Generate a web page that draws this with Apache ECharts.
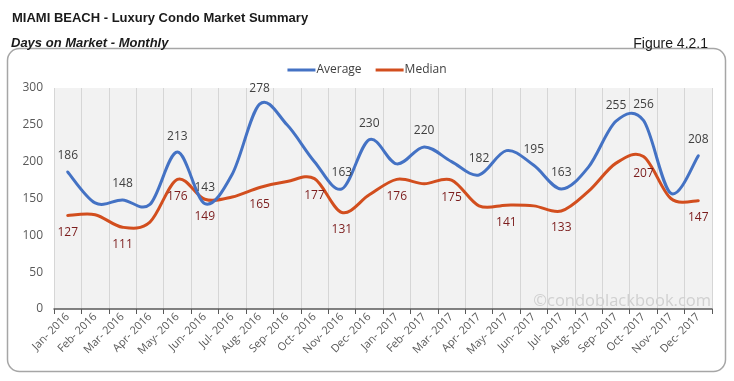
<!DOCTYPE html>
<html><head><meta charset="utf-8">
<script src="https://cdn.jsdelivr.net/npm/echarts@6/dist/echarts.min.js"></script>
<style>html,body{margin:0;padding:0;background:#fff}#c{width:734px;height:381px}</style>
</head><body><div id="c"></div>
<script>
const categories = ['Jan- 2016','Feb- 2016','Mar- 2016','Apr- 2016','May- 2016','Jun- 2016','Jul- 2016','Aug- 2016','Sep- 2016','Oct- 2016','Nov- 2016','Dec- 2016',
  'Jan- 2017','Feb- 2017','Mar- 2017','Apr- 2017','May- 2017','Jun- 2017','Jul- 2017','Aug- 2017','Sep- 2017','Oct- 2017','Nov- 2017','Dec- 2017'];
const averageValues = [186,144,148,142,213,143,183,278,250,200,163,230,197,220,200,182,215,195,163,193,255,256,157,208];
const medianValues  = [127,128,111,118,176,149,152,165,173,177,131,155,176,170,175,140,141,140,133,160,198,207,150,147];
const averageLabeled = [1,0,1,0,1,1,0,1,0,0,1,1,0,1,0,1,0,1,1,0,1,1,0,1];
const medianLabeled  = [1,0,1,0,1,1,0,1,0,1,1,0,1,0,1,0,1,0,1,0,0,1,0,1];
const yTicks = [0,50,100,150,200,250,300];

const chart = echarts.init(document.getElementById('c'), null, {renderer:'canvas'});
const avgData = averageValues.map((v,i)=>({value:v, label:{show:!!averageLabeled[i]}}));
const medData = medianValues.map((v,i)=>({value:v, label:{show:!!medianLabeled[i]}}));
const F = '"Open Sans", sans-serif';
const BLUE = '#4472C4', ORANGE = '#D24E1E';

// Smoothed curve (Catmull-Rom style, like a spreadsheet "smoothed line") built from axis coordinates
function smoothRender(values, color) {
  return function (params, api) {
    if (params.dataIndex !== 0) return null;
    const pts = values.map((v, i) => api.coord([i, v]));
    const n = pts.length;
    let d = 'M' + pts[0][0] + ' ' + pts[0][1];
    for (let i = 0; i < n - 1; i++) {
      const p0 = pts[Math.max(i - 1, 0)], p1 = pts[i], p2 = pts[i + 1], p3 = pts[Math.min(i + 2, n - 1)];
      const c1 = [p1[0] + (p2[0] - p0[0]) / 6, p1[1] + (p2[1] - p0[1]) / 6];
      const c2 = [p2[0] - (p3[0] - p1[0]) / 6, p2[1] - (p3[1] - p1[1]) / 6];
      d += ' C' + c1[0] + ' ' + c1[1] + ' ' + c2[0] + ' ' + c2[1] + ' ' + p2[0] + ' ' + p2[1];
    }
    return {type:'path', shape:{pathData:d}, style:{stroke:color, lineWidth:3, fill:null, lineCap:'round', lineJoin:'round'}};
  };
}

chart.setOption({
  animation:false,
  backgroundColor:'#fff',
  title:[
    {text:'MIAMI BEACH - Luxury Condo Market Summary', left:7, top:7,
      textStyle:{fontFamily:'"Liberation Sans", Arial, sans-serif', fontSize:13, fontWeight:'bold', color:'#1a1a1a'}},
    {text:'Days on Market - Monthly', left:6, top:32,
      textStyle:{fontFamily:'"Liberation Sans", Arial, sans-serif', fontSize:13, fontWeight:'bold', fontStyle:'italic', color:'#1a1a1a'}},
    {text:'Figure 4.2.1', right:21, top:32,
      textStyle:{fontFamily:'"Liberation Sans", Arial, sans-serif', fontSize:14, fontWeight:'normal', color:'#1a1a1a'}}
  ],
  graphic:[
    {type:'rect', z:-10, shape:{x:7.5,y:48.5,width:718,height:323,r:12}, style:{fill:'none', stroke:'#a6a6a6', lineWidth:1.5}},
    {type:'text', right:23, top:293, z:1, style:{text:'\u00a9condoblackbook.com', fill:'#d0d0d0', font:'16.5px "Open Sans", sans-serif'}}
  ],
  legend:{
    top:59, left:'center', icon:'rect', itemWidth:28, itemHeight:3, itemGap:14,
    textStyle:{fontFamily:F, fontSize:12, color:'#404040', padding:[0,0,0,-4]},
    data:['Average','Median']
  },
  grid:{left:54, right:22, top:88, bottom:72, show:true, backgroundColor:'#f2f2f2', borderWidth:0},
  xAxis:{
    type:'category', data:categories, boundaryGap:true,
    axisLine:{lineStyle:{color:'#595959', width:1.5}},
    axisTick:{show:true, length:5, lineStyle:{color:'#595959'}},
    splitLine:{show:true, lineStyle:{color:'#d6d6d6', width:1}},
    axisLabel:{rotate:45, fontFamily:F, fontSize:11, color:'#595959', margin:6, interval:0}
  },
  yAxis:{
    type:'value', min:yTicks[0], max:yTicks[yTicks.length-1], interval:50,
    axisLine:{show:false}, axisTick:{show:false}, splitLine:{show:false},
    axisLabel:{fontFamily:F, fontSize:12, color:'#595959', margin:11}
  },
  series:[
    {name:'Average', type:'line', data:avgData, symbol:'circle', symbolSize:0, z:3,
      lineStyle:{color:BLUE, width:0}, itemStyle:{color:BLUE},
      label:{position:'top', distance:10, fontFamily:F, fontSize:12, color:'#404040'}},
    {name:'Median', type:'line', data:medData, symbol:'circle', symbolSize:0, z:3,
      lineStyle:{color:ORANGE, width:0}, itemStyle:{color:ORANGE},
      label:{position:'bottom', distance:11, fontFamily:F, fontSize:12, color:'#7b1c1c'}},
    {name:'Median', type:'custom', data:medianValues.map((v,i)=>[i,v]), renderItem:smoothRender(medianValues, ORANGE),
      itemStyle:{color:ORANGE}, z:2, silent:true, clip:false},
    {name:'Average', type:'custom', data:averageValues.map((v,i)=>[i,v]), renderItem:smoothRender(averageValues, BLUE),
      itemStyle:{color:BLUE}, z:2, silent:true, clip:false}
  ]
});
</script></body></html>
